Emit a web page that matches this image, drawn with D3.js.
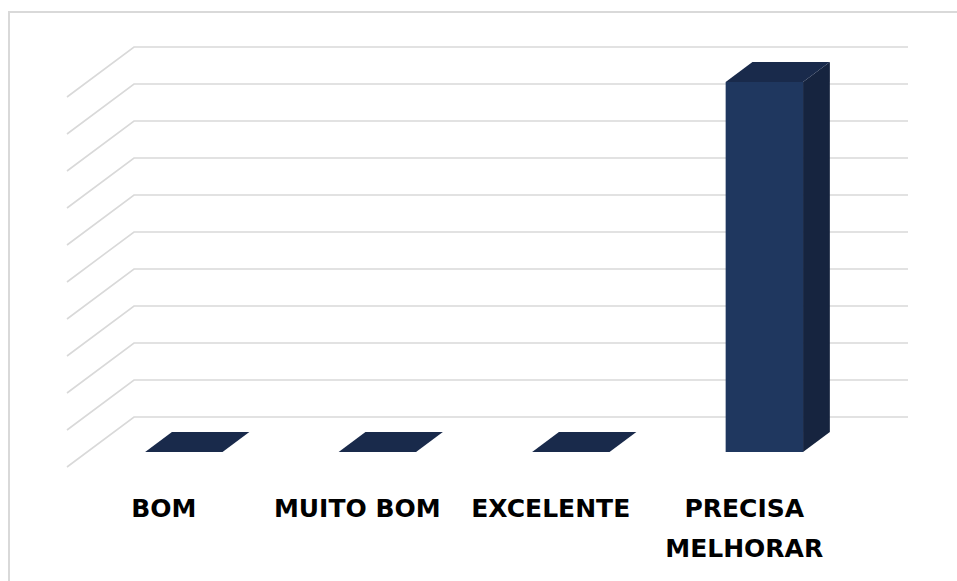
<!DOCTYPE html>
<html>
<head>
<meta charset="utf-8">
<script src="https://cdn.jsdelivr.net/npm/d3@7"></script>
<style>
  html, body { margin: 0; padding: 0; background: #ffffff; }
  svg { display: block; }
</style>
</head>
<body>
<svg id="chart" width="957" height="581"></svg>
<script>
// Category labels (second line used where the label wraps)
const categories = ["BOM", "MUITO BOM", "EXCELENTE", "PRECISA MELHORAR"];
const labelLines = [["BOM"], ["MUITO BOM"], ["EXCELENTE"], ["PRECISA", "MELHORAR"]];
// Series values
const values = [0, 0, 0, 10];
// Value axis gridline positions
const gridTicks = [0, 1, 2, 3, 4, 5, 6, 7, 8, 9, 10];

const svg = d3.select("#chart");

// Outer chart frame
svg.append("rect")
  .attr("x", 9).attr("y", 12)
  .attr("width", 1000).attr("height", 1000)
  .attr("fill", "none")
  .attr("stroke", "#d9d9d9")
  .attr("stroke-width", 2);

// Oblique 3D projection: front-left floor corner, depth vector
const origin = { x: 67, y: 467 };
const depth = { dx: 67, dy: -50 };
const plotWidth = 774;

const x = d3.scaleBand().domain(categories).range([0, plotWidth])
  .paddingInner(0.6).paddingOuter(0.3);
const y = d3.scaleLinear().domain([0, 10]).range([0, 370]);

function project(px, v, z) {
  return [origin.x + px + depth.dx * z, origin.y - y(v) + depth.dy * z];
}

// Gridlines: back wall horizontals plus the receding lines on the side wall
const grid = svg.append("g").attr("stroke", "#d9d9d9").attr("stroke-width", 1.6).attr("fill", "none");
gridTicks.forEach(t => {
  const a = project(0, t, 0), b = project(0, t, 1), c = project(plotWidth, t, 1);
  grid.append("path").attr("d", `M${a[0]},${a[1]}L${b[0]},${b[1]}L${c[0]},${c[1]}`);
});

// Bars as boxes sitting in the middle of the depth
const z0 = 0.3, z1 = 0.7;
const poly = pts => "M" + pts.map(p => p.join(",")).join("L") + "Z";
const bars = svg.append("g");
categories.forEach((cat, i) => {
  const v = values[i];
  const xa = x(cat), xb = x(cat) + x.bandwidth();
  const g = bars.append("g");
  if (v > 0) {
    g.append("path").attr("fill", "#16243f")
      .attr("d", poly([project(xb, 0, z0), project(xb, v, z0), project(xb, v, z1), project(xb, 0, z1)]));
    g.append("path").attr("fill", "#1f375f")
      .attr("d", poly([project(xa, 0, z0), project(xb, 0, z0), project(xb, v, z0), project(xa, v, z0)]));
  }
  g.append("path").attr("fill", "#192a4b")
    .attr("d", poly([project(xa, v, z0), project(xb, v, z0), project(xb, v, z1), project(xa, v, z1)]));
});

// Category labels
const labels = svg.append("g")
  .attr("font-family", "'DejaVu Sans', sans-serif")
  .attr("font-weight", "bold")
  .attr("font-size", 25)
  .attr("fill", "#000000")
  .attr("text-anchor", "middle");
categories.forEach((cat, i) => {
  const cx = origin.x + x(cat) + x.bandwidth() / 2;
  const t = labels.append("text").attr("x", cx).attr("y", 517);
  labelLines[i].forEach((line, j) => {
    t.append("tspan").attr("x", cx).attr("dy", j === 0 ? 0 : 40).text(line);
  });
});
</script>
</body>
</html>
